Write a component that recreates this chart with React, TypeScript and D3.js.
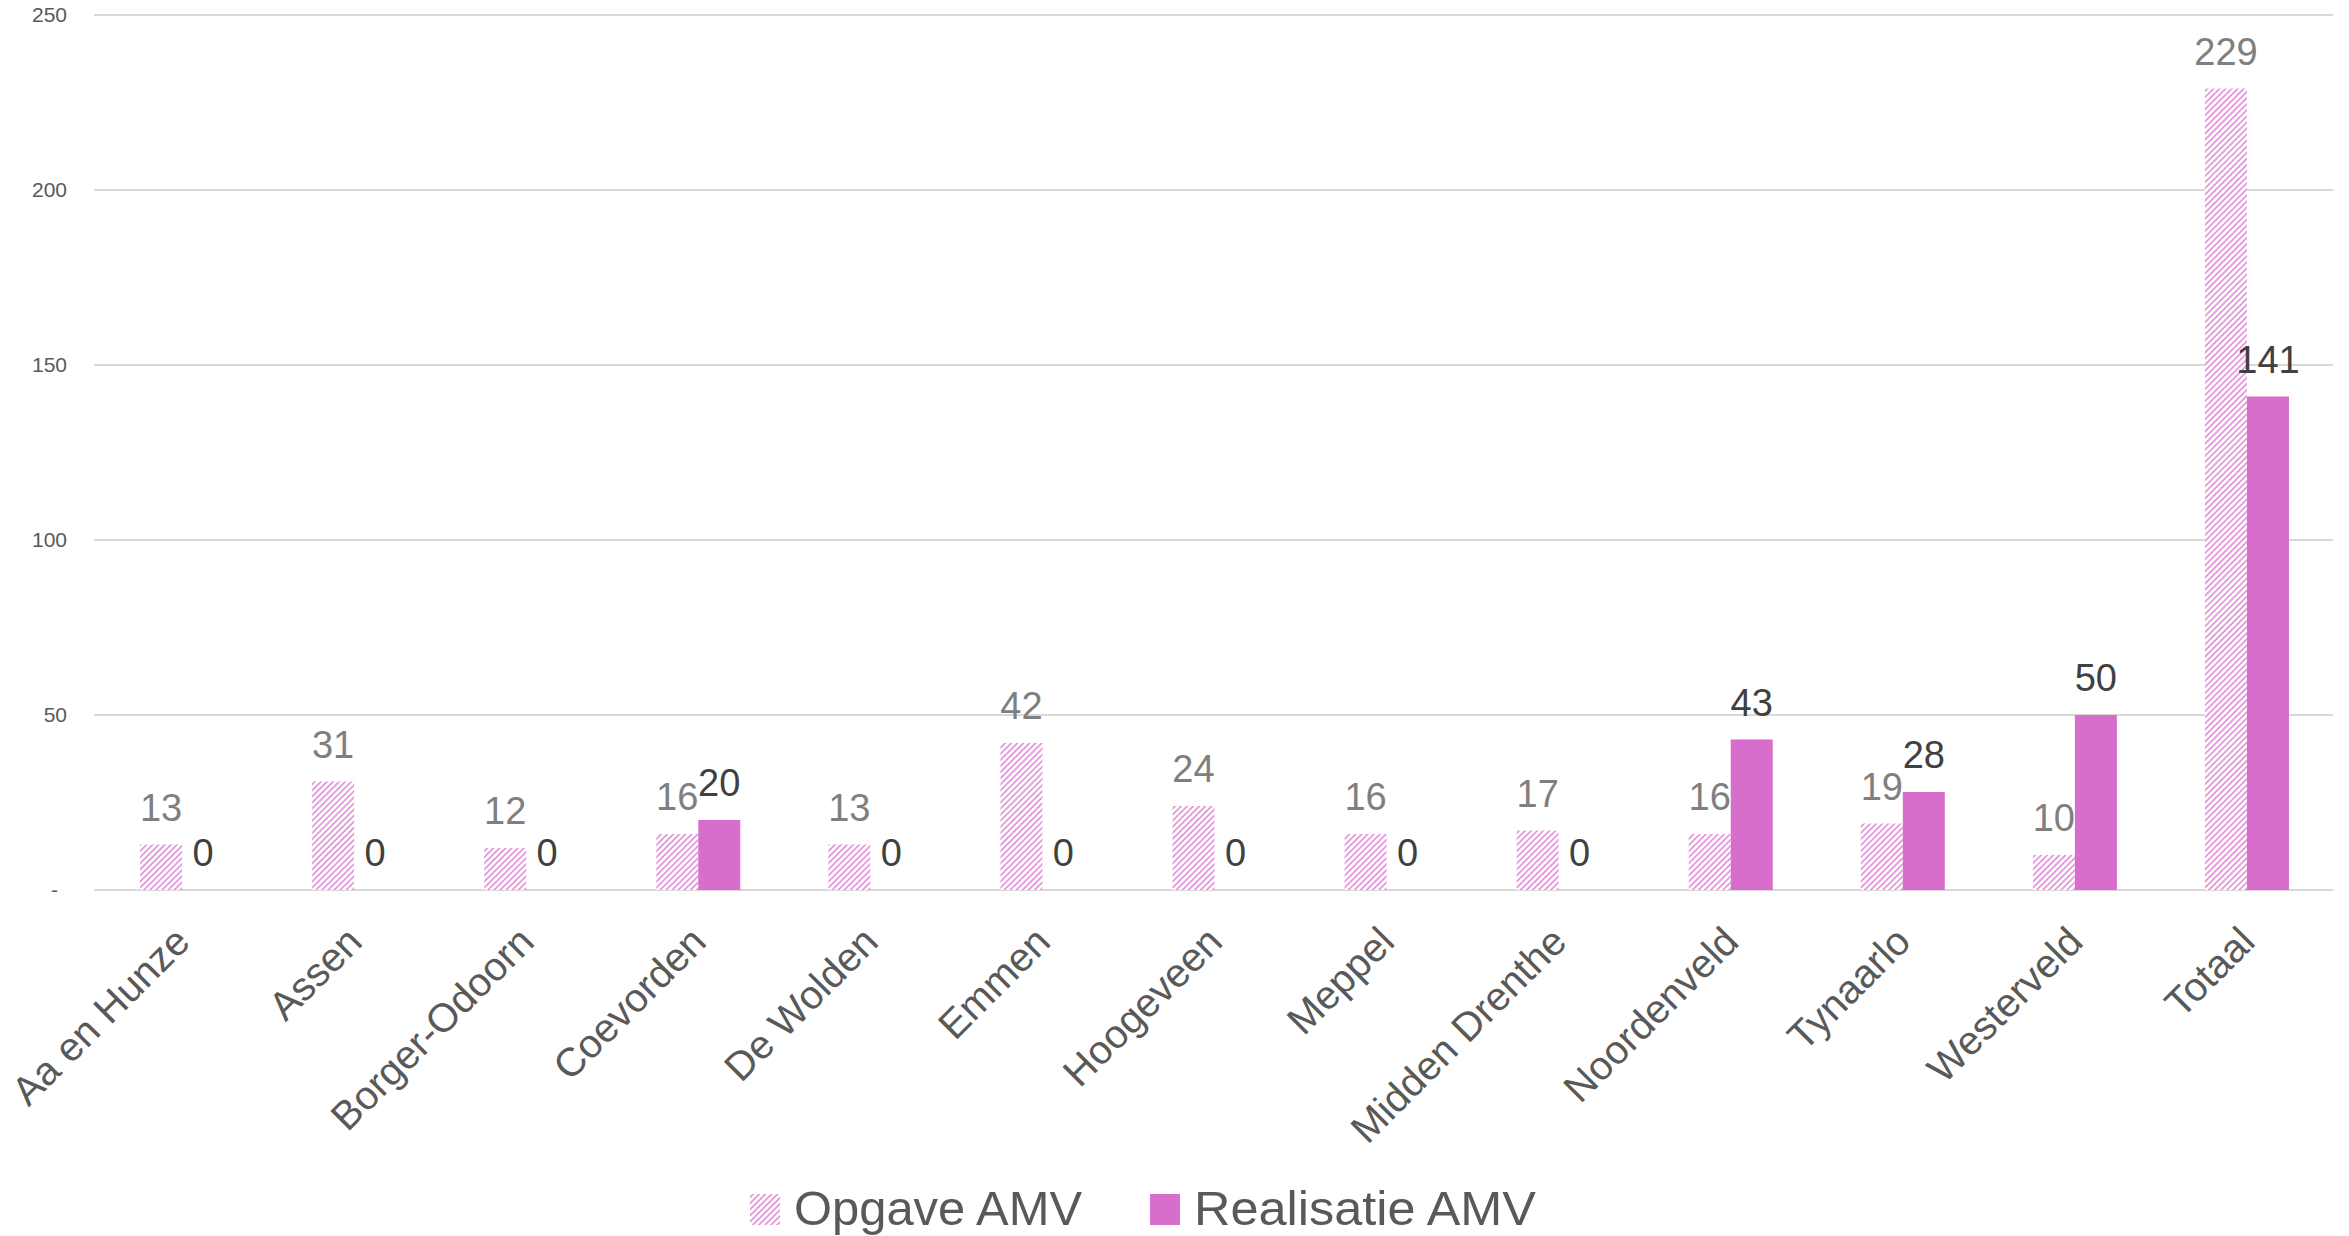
import * as d3 from "d3";
import React from "react";
import { useEffect, useRef } from "react";

// categories + series
const gemeenten = [
    "Aa en Hunze", "Assen", "Borger-Odoorn", "Coevorden", "De Wolden", "Emmen",
    "Hoogeveen", "Meppel", "Midden Drenthe", "Noordenveld", "Tynaarlo", "Westerveld", "Totaal",
];
const opgave = [13, 31, 12, 16, 13, 42, 24, 16, 17, 16, 19, 10, 229];
const realisatie = [0, 0, 0, 20, 0, 0, 0, 0, 0, 43, 28, 50, 141];
const yTicks = [0, 50, 100, 150, 200, 250];
const seriesNames = ["Opgave AMV", "Realisatie AMV"];

const PINK = "#D86ECC";
const FONT = "'Liberation Sans', Arial, sans-serif";

function drawChart(el: SVGSVGElement) {
    const width = 2349;
    const height = 1236;
    const margin = { top: 15, right: 16, bottom: 346, left: 96 };

    const svg = d3.select(el).attr("width", width).attr("height", height);
    svg.selectAll("*").remove();

    // hatch for Opgave
    const defs = svg.append("defs");
    const pat = defs.append("pattern")
        .attr("id", "hatch")
        .attr("patternUnits", "userSpaceOnUse")
        .attr("width", 4.3)
        .attr("height", 4.3)
        .attr("patternTransform", "rotate(45)");
    pat.append("rect").attr("width", 4.3).attr("height", 4.3).attr("fill", "#fff");
    pat.append("line")
        .attr("x1", 1).attr("y1", 0).attr("x2", 1).attr("y2", 4.3)
        .attr("stroke", PINK).attr("stroke-width", 1.6).attr("stroke-opacity", 0.8);

    const x = d3.scaleBand()
        .domain(gemeenten)
        .range([margin.left, width - margin.right]);

    const y = d3.scaleLinear()
        .domain([0, 250])
        .range([height - margin.bottom, margin.top]);

    const half = x.bandwidth() * 0.244;
    const x1 = d3.scaleBand()
        .domain(seriesNames)
        .range([x.bandwidth() / 2 - half, x.bandwidth() / 2 + half]);

    // gridlines
    svg.append("g").selectAll("line")
        .data(yTicks)
        .enter().append("line")
        .attr("x1", margin.left - 2)
        .attr("x2", width - margin.right)
        .attr("y1", (d) => y(d))
        .attr("y2", (d) => y(d))
        .attr("stroke", "#d9d9d9")
        .attr("stroke-width", 2);

    // y labels
    svg.append("g").selectAll("text")
        .data(yTicks)
        .enter().append("text")
        .attr("x", (d) => (d === 0 ? 58 : 67))
        .attr("y", (d) => y(d) + 7)
        .attr("text-anchor", "end")
        .style("font", `21px ${FONT}`)
        .attr("fill", "#595959")
        .text((d) => (d === 0 ? "-" : d));

    const rows = gemeenten.map((g, i) => ({ g, o: opgave[i], r: realisatie[i] }));

    // bars
    const grp = svg.append("g").selectAll("g")
        .data(rows)
        .enter().append("g")
        .attr("transform", (d) => `translate(${x(d.g)},0)`);

    grp.append("rect")
        .attr("x", x1(seriesNames[0]) as number)
        .attr("width", x1.bandwidth())
        .attr("y", (d) => y(d.o))
        .attr("height", (d) => y(0) - y(d.o))
        .attr("fill", "url(#hatch)");

    grp.append("rect")
        .attr("x", x1(seriesNames[1]) as number)
        .attr("width", x1.bandwidth())
        .attr("y", (d) => y(d.r))
        .attr("height", (d) => y(0) - y(d.r))
        .attr("fill", PINK);

    // value labels
    grp.append("text")
        .attr("x", (x1(seriesNames[0]) as number) + x1.bandwidth() / 2)
        .attr("y", (d) => y(d.o) - 24)
        .attr("text-anchor", "middle")
        .style("font", `38px ${FONT}`)
        .attr("fill", "#7f7f7f")
        .text((d) => d.o);

    grp.append("text")
        .attr("x", (x1(seriesNames[1]) as number) + x1.bandwidth() / 2)
        .attr("y", (d) => y(d.r) - 24)
        .attr("text-anchor", "middle")
        .style("font", `38px ${FONT}`)
        .attr("fill", "#404040")
        .text((d) => d.r);

    // category labels, rotated
    svg.append("g").selectAll("text")
        .data(gemeenten)
        .enter().append("text")
        .attr("transform", (d) => `translate(${(x(d) as number) + x.bandwidth() / 2 + 10},${y(0) + 54}) rotate(-45)`)
        .attr("text-anchor", "end")
        .style("font", `40px ${FONT}`)
        .attr("fill", "#595959")
        .text((d) => d);

    // legend
    const leg = svg.append("g");
    leg.append("rect")
        .attr("x", 750).attr("y", 1194).attr("width", 30).attr("height", 31)
        .attr("fill", "url(#hatch)");
    leg.append("text")
        .attr("x", 794).attr("y", 1225)
        .attr("textLength", 288).attr("lengthAdjust", "spacingAndGlyphs")
        .style("font", `48px ${FONT}`)
        .attr("fill", "#595959")
        .text(seriesNames[0]);
    leg.append("rect")
        .attr("x", 1150).attr("y", 1194).attr("width", 30).attr("height", 31)
        .attr("fill", PINK);
    leg.append("text")
        .attr("x", 1194).attr("y", 1225)
        .attr("textLength", 342).attr("lengthAdjust", "spacingAndGlyphs")
        .style("font", `48px ${FONT}`)
        .attr("fill", "#595959")
        .text(seriesNames[1]);
}

export default function App() {
    const svg = useRef<SVGSVGElement>(null);
    useEffect(() => {
        if (svg.current) drawChart(svg.current);
    });
    return (
        <svg ref={svg} style={{ position: "absolute", left: 0, top: 0, background: "#fff" }}></svg>
    );
}
